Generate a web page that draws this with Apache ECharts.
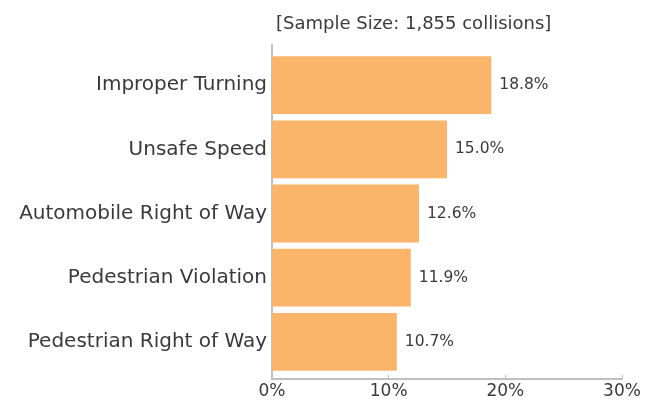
<!DOCTYPE html>
<html>
<head>
<meta charset="utf-8">
<script src="https://cdn.jsdelivr.net/npm/echarts@6/dist/echarts.min.js"></script>
<style>html,body{margin:0;padding:0;background:#fff;}#c{width:652px;height:400px;}</style>
</head>
<body>
<div id="c"></div>
<script>
const categories = ["Improper Turning", "Unsafe Speed", "Automobile Right of Way", "Pedestrian Violation", "Pedestrian Right of Way"];
const shares = [18.8, 15.0, 12.6, 11.9, 10.7];
const titleText = "[Sample Size: 1,855 collisions]";
const xTicks = [0, 10, 20, 30];

const FONT = "DejaVu Sans";
const TXT = "#3a3a3a";
const AX = "#bfbfbf";

const chart = echarts.init(document.getElementById('c'), null, {renderer: 'canvas'});
chart.setOption({
  animation: false,
  title: {
    text: titleText, left: 271, top: 10,
    textStyle: {fontFamily: FONT, fontSize: 18, fontWeight: 'normal', color: TXT}
  },
  grid: [
    {left: 272, right: 30, top: 53, bottom: 26, containLabel: false},
    {left: 272, right: 30, top: 45, bottom: 21, containLabel: false}
  ],
  xAxis: [
    {gridIndex: 0, type: 'value', min: xTicks[0], max: xTicks[xTicks.length-1], show: false},
    {gridIndex: 1, type: 'value', min: xTicks[0], max: xTicks[xTicks.length-1], interval: 10,
     axisLine: {show: true, lineStyle: {color: AX, width: 2}},
     axisTick: {show: true, inside: true, length: 4, lineStyle: {color: AX, width: 1}},
     splitLine: {show: false},
     axisLabel: {formatter: '{value}%', fontFamily: FONT, fontSize: 17, color: TXT, margin: 4}}
  ],
  yAxis: [
    {gridIndex: 0, type: 'category', inverse: true, data: categories,
     axisLine: {show: false}, axisTick: {show: false},
     axisLabel: {fontFamily: FONT, fontSize: 20, color: TXT, margin: 5}},
    {gridIndex: 1, type: 'value', min: 0, max: 1,
     axisLine: {show: true, lineStyle: {color: AX, width: 2}},
     axisTick: {show: false}, axisLabel: {show: false}, splitLine: {show: false}}
  ],
  series: [{
    type: 'bar', xAxisIndex: 0, yAxisIndex: 0, data: shares,
    barCategoryGap: '10%',
    itemStyle: {color: '#FBB56B'},
    label: {show: true, position: 'right', distance: 8,
      formatter: p => p.value.toFixed(1) + '%',
      fontFamily: FONT, fontSize: 15.5, color: TXT}
  }]
});
</script>
</body>
</html>
